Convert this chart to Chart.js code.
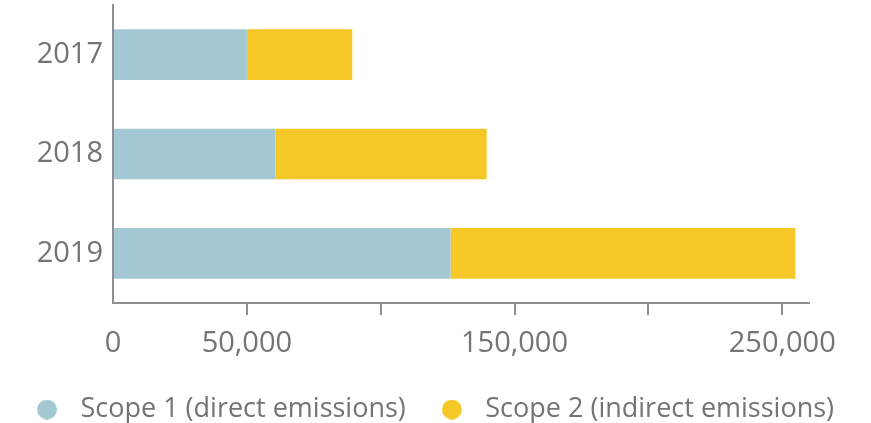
<!DOCTYPE html>
<html>
<head>
<meta charset="utf-8">
<script src="https://cdn.jsdelivr.net/npm/chart.js@4.4.0/dist/chart.umd.min.js"></script>
<style>
  html, body { margin: 0; padding: 0; background: #fff; }
  #wrap { width: 871px; height: 423px; }
</style>
</head>
<body>
<div id="wrap"><canvas id="emissions"></canvas></div>
<script>
// Data
const years = ['2017', '2018', '2019'];
const scope1 = [50000, 60700, 126100];
const scope2 = [39400, 78900, 128800];
const seriesNames = ['Scope 1 (direct emissions)', 'Scope 2 (indirect emissions)'];
const seriesColors = ['#a4c8d3', '#f5c828'];
const xTicks = [0, 50000, 100000, 150000, 200000, 250000];
const labelledTicks = [0, 50000, 150000, 250000];

const textGrey = '#737476';
const axisGrey = '#8d8f91';
const fontFamily = "'Open Sans', 'Noto Sans', sans-serif";

// legend marker: circle on the left of a wider box, so text sits further away
function legendDot(color) {
    const c = document.createElement('canvas');
    c.width = 30;
    c.height = 20;
    const g = c.getContext('2d');
    g.fillStyle = color;
    g.beginPath();
    g.arc(10, 10, 10, 0, Math.PI * 2);
    g.fill();
    return c;
}

const ctx = document.getElementById('emissions').getContext('2d');

new Chart(ctx, {
    type: 'bar',
    data: {
        labels: years,
        datasets: [
            {
                label: seriesNames[0],
                data: scope1,
                backgroundColor: seriesColors[0],
                pointStyle: legendDot(seriesColors[0]),
                borderWidth: 0
            },
            {
                label: seriesNames[1],
                data: scope2,
                backgroundColor: seriesColors[1],
                pointStyle: legendDot(seriesColors[1]),
                borderWidth: 0
            }
        ]
    },
    options: {
        indexAxis: 'y',
        responsive: true,
        maintainAspectRatio: false,
        animation: false,
        barPercentage: 0.51,
        categoryPercentage: 1,
        layout: {
            padding: { top: 5, right: 0, left: 0, bottom: -10 }
        },
        scales: {
            x: {
                stacked: true,
                min: 0,
                max: 260000,
                afterBuildTicks: (axis) => {
                    axis.ticks = xTicks.map(v => ({ value: v }));
                },
                afterFit: (axis) => { axis.height = 57; },
                grid: {
                    drawOnChartArea: false,
                    drawTicks: true,
                    tickLength: 12,
                    lineWidth: 2,
                    color: (c) => (c.tick && c.tick.value === 0) ? 'rgba(0,0,0,0)' : axisGrey
                },
                border: { display: true, color: axisGrey, width: 2 },
                ticks: {
                    autoSkip: false,
                    maxRotation: 0,
                    padding: 14,
                    color: textGrey,
                    font: { family: fontFamily, size: 29, lineHeight: 1.0 },
                    callback: function (value) {
                        return labelledTicks.includes(value) ? value.toLocaleString('en-US') : '';
                    }
                }
            },
            y: {
                stacked: true,
                afterFit: (axis) => {
                    axis.width = 113;
                    axis.paddingTop = 0;
                    axis.paddingBottom = 0;
                },
                grid: { display: false, drawTicks: false },
                border: { display: true, color: axisGrey, width: 2 },
                ticks: {
                    padding: 10,
                    color: textGrey,
                    font: { family: fontFamily, size: 29, lineHeight: 0.4 }
                }
            },
            yRight: {
                position: 'right',
                afterFit: (axis) => {
                    axis.width = 62;
                    axis.paddingTop = 0;
                    axis.paddingBottom = 0;
                },
                grid: { display: false, drawTicks: false },
                border: { display: false },
                ticks: { display: false }
            }
        },
        plugins: {
            legend: {
                position: 'bottom',
                labels: {
                    usePointStyle: true,
                    boxHeight: 20,
                    pointStyleWidth: 30,
                    padding: 36,
                    color: textGrey,
                    font: { family: fontFamily, size: 27 }
                }
            },
            tooltip: { enabled: false }
        }
    }
});
</script>
</body>
</html>
